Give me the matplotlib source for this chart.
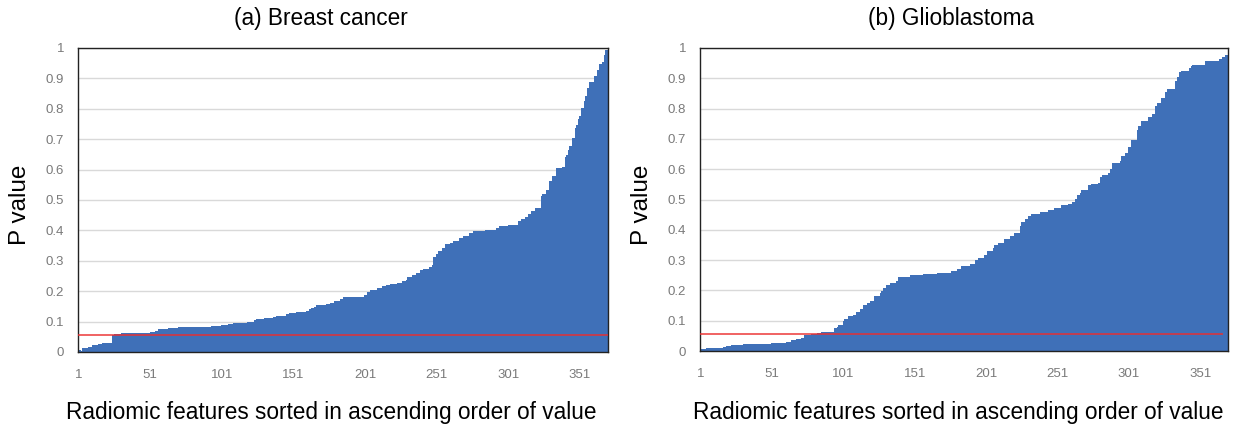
import matplotlib
matplotlib.use("Agg")
import matplotlib.pyplot as plt

# ---------------- data ----------------
breast_p = [
    0.005, 0.006, 0.003, 0.012, 0.012, 0.012, 0.012, 0.015, 0.015, 0.015,
    0.023, 0.023, 0.023, 0.023, 0.026, 0.026, 0.026, 0.028, 0.028, 0.029,
    0.029, 0.030, 0.030, 0.030, 0.056, 0.059, 0.059, 0.059, 0.059, 0.059,
    0.061, 0.061, 0.062, 0.062, 0.062, 0.062, 0.062, 0.062, 0.062, 0.062,
    0.062, 0.062, 0.062, 0.064, 0.064, 0.064, 0.064, 0.064, 0.064, 0.064,
    0.065, 0.065, 0.065, 0.066, 0.068, 0.068, 0.075, 0.075, 0.075, 0.075,
    0.075, 0.075, 0.075, 0.078, 0.078, 0.078, 0.078, 0.078, 0.078, 0.078,
    0.081, 0.081, 0.081, 0.081, 0.081, 0.081, 0.081, 0.081, 0.081, 0.081,
    0.081, 0.081, 0.081, 0.081, 0.081, 0.081, 0.081, 0.081, 0.081, 0.081,
    0.081, 0.081, 0.081, 0.084, 0.084, 0.084, 0.084, 0.084, 0.084, 0.084,
    0.090, 0.090, 0.090, 0.090, 0.090, 0.093, 0.093, 0.093, 0.094, 0.095,
    0.095, 0.096, 0.097, 0.097, 0.097, 0.097, 0.097, 0.097, 0.100, 0.100,
    0.100, 0.100, 0.100, 0.104, 0.107, 0.107, 0.107, 0.107, 0.110, 0.110,
    0.113, 0.113, 0.113, 0.113, 0.113, 0.113, 0.116, 0.116, 0.117, 0.117,
    0.117, 0.117, 0.120, 0.120, 0.120, 0.126, 0.126, 0.129, 0.129, 0.129,
    0.129, 0.129, 0.133, 0.133, 0.133, 0.133, 0.133, 0.133, 0.133, 0.136,
    0.136, 0.140, 0.142, 0.145, 0.145, 0.147, 0.153, 0.153, 0.153, 0.153,
    0.153, 0.153, 0.153, 0.157, 0.157, 0.157, 0.162, 0.162, 0.162, 0.168,
    0.168, 0.168, 0.168, 0.174, 0.174, 0.180, 0.180, 0.180, 0.180, 0.180,
    0.180, 0.180, 0.180, 0.180, 0.182, 0.182, 0.182, 0.182, 0.182, 0.182,
    0.189, 0.189, 0.197, 0.197, 0.203, 0.203, 0.203, 0.205, 0.205, 0.210,
    0.210, 0.210, 0.216, 0.216, 0.216, 0.220, 0.220, 0.220, 0.223, 0.223,
    0.223, 0.223, 0.223, 0.226, 0.226, 0.226, 0.234, 0.234, 0.234, 0.238,
    0.248, 0.248, 0.248, 0.253, 0.253, 0.253, 0.260, 0.260, 0.260, 0.269,
    0.269, 0.274, 0.274, 0.274, 0.274, 0.278, 0.278, 0.286, 0.311, 0.311,
    0.322, 0.332, 0.332, 0.332, 0.341, 0.341, 0.356, 0.356, 0.356, 0.356,
    0.360, 0.360, 0.366, 0.366, 0.366, 0.366, 0.375, 0.375, 0.375, 0.381,
    0.381, 0.381, 0.381, 0.390, 0.390, 0.390, 0.397, 0.397, 0.397, 0.397,
    0.397, 0.397, 0.397, 0.397, 0.401, 0.401, 0.401, 0.401, 0.401, 0.401,
    0.401, 0.401, 0.407, 0.407, 0.414, 0.414, 0.414, 0.414, 0.414, 0.414,
    0.419, 0.419, 0.419, 0.419, 0.419, 0.419, 0.419, 0.430, 0.430, 0.437,
    0.437, 0.437, 0.444, 0.444, 0.454, 0.454, 0.464, 0.464, 0.464, 0.474,
    0.474, 0.474, 0.474, 0.514, 0.520, 0.520, 0.520, 0.532, 0.532, 0.561,
    0.561, 0.578, 0.578, 0.578, 0.604, 0.604, 0.604, 0.604, 0.608, 0.608,
    0.641, 0.649, 0.665, 0.679, 0.679, 0.704, 0.704, 0.737, 0.748, 0.766,
    0.775, 0.803, 0.803, 0.825, 0.841, 0.868, 0.868, 0.887, 0.887, 0.887,
    0.907, 0.907, 0.929, 0.929, 0.948, 0.948, 0.955, 0.978, 0.992, 0.992,
]

glioblastoma_p = [
    0.005, 0.005, 0.008, 0.008, 0.010, 0.010, 0.010, 0.010, 0.010, 0.010,
    0.010, 0.010, 0.010, 0.010, 0.010, 0.010, 0.012, 0.012, 0.017, 0.017,
    0.017, 0.017, 0.020, 0.020, 0.020, 0.020, 0.020, 0.020, 0.020, 0.020,
    0.023, 0.023, 0.023, 0.024, 0.024, 0.024, 0.024, 0.024, 0.024, 0.024,
    0.024, 0.024, 0.024, 0.024, 0.024, 0.024, 0.024, 0.024, 0.024, 0.024,
    0.025, 0.025, 0.028, 0.028, 0.028, 0.028, 0.028, 0.028, 0.028, 0.028,
    0.030, 0.030, 0.030, 0.030, 0.036, 0.036, 0.036, 0.038, 0.038, 0.038,
    0.038, 0.043, 0.043, 0.052, 0.052, 0.052, 0.052, 0.052, 0.055, 0.055,
    0.055, 0.055, 0.058, 0.058, 0.058, 0.062, 0.062, 0.062, 0.062, 0.064,
    0.064, 0.064, 0.064, 0.064, 0.075, 0.075, 0.078, 0.087, 0.087, 0.087,
    0.100, 0.106, 0.106, 0.106, 0.114, 0.114, 0.114, 0.120, 0.120, 0.128,
    0.128, 0.128, 0.140, 0.140, 0.151, 0.151, 0.151, 0.159, 0.159, 0.165,
    0.165, 0.165, 0.183, 0.183, 0.183, 0.183, 0.190, 0.198, 0.207, 0.207,
    0.218, 0.218, 0.218, 0.226, 0.226, 0.226, 0.226, 0.232, 0.232, 0.244,
    0.244, 0.244, 0.244, 0.244, 0.244, 0.244, 0.244, 0.251, 0.251, 0.251,
    0.251, 0.251, 0.251, 0.251, 0.251, 0.251, 0.254, 0.254, 0.254, 0.254,
    0.254, 0.254, 0.254, 0.254, 0.254, 0.254, 0.257, 0.257, 0.257, 0.257,
    0.257, 0.257, 0.257, 0.257, 0.257, 0.257, 0.264, 0.264, 0.264, 0.264,
    0.269, 0.269, 0.269, 0.279, 0.279, 0.279, 0.279, 0.279, 0.282, 0.287,
    0.287, 0.287, 0.287, 0.300, 0.300, 0.306, 0.306, 0.306, 0.306, 0.318,
    0.318, 0.331, 0.331, 0.331, 0.331, 0.339, 0.351, 0.351, 0.351, 0.358,
    0.358, 0.358, 0.358, 0.370, 0.370, 0.370, 0.370, 0.378, 0.378, 0.378,
    0.389, 0.389, 0.389, 0.389, 0.414, 0.425, 0.425, 0.425, 0.436, 0.436,
    0.446, 0.446, 0.453, 0.453, 0.453, 0.453, 0.453, 0.453, 0.459, 0.459,
    0.459, 0.459, 0.459, 0.459, 0.465, 0.465, 0.465, 0.465, 0.473, 0.473,
    0.473, 0.473, 0.473, 0.481, 0.481, 0.481, 0.481, 0.481, 0.484, 0.484,
    0.484, 0.492, 0.492, 0.503, 0.514, 0.514, 0.522, 0.533, 0.533, 0.533,
    0.533, 0.533, 0.547, 0.547, 0.552, 0.552, 0.552, 0.552, 0.552, 0.556,
    0.573, 0.573, 0.581, 0.581, 0.581, 0.581, 0.589, 0.600, 0.600, 0.620,
    0.620, 0.620, 0.620, 0.620, 0.628, 0.644, 0.644, 0.644, 0.653, 0.653,
    0.672, 0.672, 0.696, 0.696, 0.696, 0.696, 0.729, 0.741, 0.741, 0.760,
    0.760, 0.760, 0.760, 0.760, 0.773, 0.773, 0.773, 0.782, 0.782, 0.809,
    0.818, 0.818, 0.818, 0.835, 0.835, 0.835, 0.854, 0.866, 0.866, 0.866,
    0.866, 0.866, 0.866, 0.892, 0.903, 0.903, 0.920, 0.925, 0.925, 0.925,
    0.925, 0.925, 0.925, 0.934, 0.939, 0.944, 0.944, 0.944, 0.945, 0.945,
    0.945, 0.945, 0.945, 0.945, 0.956, 0.956, 0.956, 0.958, 0.958, 0.958,
    0.958, 0.958, 0.958, 0.958, 0.964, 0.964, 0.971, 0.971, 0.976, 0.976,
]

panel_titles = ["(a) Breast cancer", "(b) Glioblastoma"]
threshold = 0.057
y_ticks = [0, 0.1, 0.2, 0.3, 0.4, 0.5, 0.6, 0.7, 0.8, 0.9, 1]
y_tick_labels = ["0", "0.1", "0.2", "0.3", "0.4", "0.5", "0.6", "0.7", "0.8", "0.9", "1"]
x_ticks = [1, 51, 101, 151, 201, 251, 301, 351]
x_label = "Radiomic features sorted in ascending order of value"
y_label = "P value"

# ---------------- style ----------------
plt.rcParams['font.family'] = ['Liberation Sans', 'DejaVu Sans']
BAR = '#3f70b8'
GRID = '#d9d9d9'
TICK = '#7a7a7a'

fig = plt.figure(figsize=(12.34, 4.30), dpi=100)
W, H = 1234.0, 430.0
boxes = [(78, 48, 608, 352), (700, 48, 1228, 351)]
title_x = [321, 951]
xlabel_x = [331, 958]
redline_end = [1.0, 0.988]

for k, (vals, title) in enumerate(zip([breast_p, glioblastoma_p], panel_titles)):
    x0, yt, x1, yb = boxes[k]
    ax = fig.add_axes([x0 / W, 1 - yb / H, (x1 - x0) / W, (yb - yt) / H])
    xs = list(range(1, len(vals) + 1))
    ax.bar(xs, vals, width=1.0, color=BAR, linewidth=0, zorder=2)
    ax.set_xlim(0.5, len(vals) + 0.5)
    ax.set_ylim(0, 1)
    ax.set_yticks(y_ticks)
    ax.set_yticklabels(y_tick_labels)
    ax.set_xticks(x_ticks)
    ax.set_xticklabels([str(t) for t in x_ticks])
    ax.tick_params(axis='both', length=0, labelsize=9.5, labelcolor=TICK)
    ax.tick_params(axis='y', pad=10)
    ax.tick_params(axis='x', pad=12)
    for t in y_ticks[1:]:
        ax.axhline(t, color=GRID, linewidth=1.0, zorder=1)
    ax.axhline(threshold, xmin=0, xmax=redline_end[k], color=(0.92, 0.18, 0.18),
               alpha=0.75, linewidth=1.4, zorder=3)
    for s in ax.spines.values():
        s.set_color('#222222')
        s.set_linewidth(1.0)
    fig.text((x0 - 58) / W, 1 - 205 / H, y_label, rotation=90, ha='center',
             va='center', fontsize=17.5)
    fig.text(xlabel_x[k] / W, 1 - 412 / H, x_label, ha='center',
             va='center', fontsize=16.3)
    fig.text(title_x[k] / W, 1 - 18 / H, title, ha='center', va='center',
             fontsize=16.3)

fig.savefig('out.png', dpi=100)
